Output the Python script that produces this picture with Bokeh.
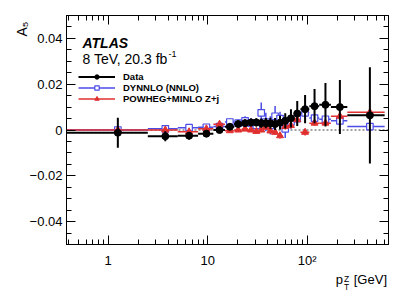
import numpy as np
from bokeh.plotting import figure
from bokeh.layouts import column
from bokeh.models import (FixedTicker, LinearAxis, LogAxis, Label, Legend,
                          LegendItem, Span, Range1d, Title, Div)
from bokeh.embed import file_html
from bokeh.resources import INLINE

# ---------------- data ----------------
bin_edges = [0, 2.5, 5.0, 8.0, 11.4, 14.9, 18.5, 22.0, 25.5, 29.0, 32.6, 36.4,
             40.4, 44.9, 50.2, 56.4, 63.9, 73.4, 85.4, 105.0, 132.0, 173.0,
             253.0, 600.0]
data_a5 = [-0.0012, -0.0027, -0.0025, -0.0016, 0.0000, 0.0014, 0.0026, 0.0030,
           0.0033, 0.0033, 0.0030, 0.0030, 0.0029, 0.0026, 0.0032, 0.0040,
           0.0051, 0.0072, 0.0091, 0.0104, 0.0110, 0.0100, 0.0064]
data_err = [0.0065, 0.0022, 0.0016, 0.0012, 0.0012, 0.0013, 0.0014, 0.0016,
            0.0017, 0.0018, 0.0020, 0.0022, 0.0024, 0.0026, 0.0030, 0.0033,
            0.0040, 0.0055, 0.0062, 0.0075, 0.0095, 0.0118, 0.0210]
dynnlo_a5 = [0.0000, 0.0005, 0.0010, 0.0012, 0.0015, 0.0035, 0.0030, 0.0040,
             0.0030, 0.0020, 0.0075, 0.0035, 0.0020, 0.0060, 0.0050, 0.0005,
             0.0035, 0.0050, 0.0075, 0.0052, 0.0047, 0.0040, 0.0015]
dynnlo_err = [0.0003, 0.0004, 0.0005, 0.0006, 0.0010, 0.0015, 0.0015, 0.0020,
              0.0020, 0.0025, 0.0045, 0.0040, 0.0040, 0.0045, 0.0030, 0.0040,
              0.0030, 0.0025, 0.0025, 0.0015, 0.0012, 0.0010, 0.0008]
powheg_a5 = [0.0000, 0.0000, -0.0008, 0.0005, 0.0025, -0.0003, 0.0000, 0.0004,
             0.0000, -0.0006, 0.0000, 0.0012, -0.0004, -0.0010, -0.0025, 0.0015,
             0.0020, 0.0045, -0.0010, 0.0030, 0.0030, 0.0060, 0.0077]
powheg_err = [0.0002, 0.0003, 0.0004, 0.0004, 0.0006, 0.0006, 0.0007, 0.0008,
              0.0008, 0.0009, 0.0010, 0.0010, 0.0011, 0.0012, 0.0012, 0.0013,
              0.0013, 0.0014, 0.0014, 0.0012, 0.0010, 0.0008, 0.0006]

x_tick_values = [1, 10, 100]
x_tick_labels = ["1", "10", "10²"]
y_tick_values = [-0.04, -0.02, 0.0, 0.02, 0.04]
y_tick_labels = ["−0.04", "−0.02", "0", "0.02", "0.04"]

X_RANGE = (0.381, 656.0)
Y_RANGE = (-0.05, 0.05)

FONT = "Liberation Sans"
BLACK = "#000000"
BLUE = "#4b4be6"
RED = "#e0302f"

# layout (pixels)
FRAME_W, FRAME_H = 322, 232
B_LEFT, B_RIGHT, B_TOP, B_BOTTOM = 66, 15, 15, 23

# ---------------- derived ----------------
edges = np.array(bin_edges, dtype=float)
lo = np.maximum(edges[:-1], X_RANGE[0] * 0.5)
hi = edges[1:]
centers = 0.5 * (edges[:-1] + edges[1:])


def fx(px):  # frame pixel from left -> data x (log)
    return X_RANGE[0] * (X_RANGE[1] / X_RANGE[0]) ** (px / FRAME_W)


def fy(py):  # frame pixel from bottom -> data y
    return Y_RANGE[0] + (Y_RANGE[1] - Y_RANGE[0]) * py / FRAME_H


p = figure(width=B_LEFT + FRAME_W + B_RIGHT, height=B_TOP + FRAME_H + B_BOTTOM,
           x_axis_type="log",
           x_range=Range1d(*X_RANGE), y_range=Range1d(*Y_RANGE),
           output_backend="svg", toolbar_location=None,
           min_border_left=B_LEFT, min_border_right=B_RIGHT,
           min_border_top=B_TOP, min_border_bottom=B_BOTTOM)
p.xgrid.visible = False
p.ygrid.visible = False
p.outline_line_color = "black"
p.outline_line_width = 1
p.background_fill_color = "white"
p.border_fill_color = "white"

# ticks
x_minor = [m * 10.0 ** k for k in range(-1, 3) for m in range(1, 10)]
x_minor = [float(v) for v in x_minor if X_RANGE[0] <= v <= X_RANGE[1]]
y_minor = [float(v) for v in np.round(np.arange(-0.05, 0.0501, 0.005), 4)]
xt = FixedTicker(ticks=x_tick_values, minor_ticks=x_minor)
yt = FixedTicker(ticks=y_tick_values, minor_ticks=y_minor)


def style_axis(ax, ticker, labels=None, standoff=4):
    ax.ticker = ticker
    ax.major_tick_in = 9
    ax.major_tick_out = 0
    ax.minor_tick_in = 5
    ax.minor_tick_out = 0
    ax.axis_line_color = "black"
    ax.major_tick_line_color = "black"
    ax.minor_tick_line_color = "black"
    if labels is None:
        ax.major_label_text_font_size = "1px"
        ax.major_label_text_color = None
        ax.major_label_standoff = 0
    else:
        ax.major_label_overrides = labels
        ax.major_label_text_font = FONT
        ax.major_label_text_font_size = "13px"
        ax.major_label_text_color = "black"
        ax.major_label_standoff = standoff


style_axis(p.xaxis[0], xt, dict(zip(x_tick_values, x_tick_labels)), standoff=8)
style_axis(p.yaxis[0], yt, dict(zip(y_tick_values, y_tick_labels)), standoff=4)
top_ax = LogAxis()
style_axis(top_ax, xt)
p.add_layout(top_ax, "above")
right_ax = LinearAxis()
style_axis(right_ax, yt)
p.add_layout(right_ax, "right")

# y-axis title (top aligned, like ROOT)
p.add_layout(Title(text="A₅", align="right", text_font=FONT,
                   text_font_size="14px", text_font_style="normal",
                   text_color="black", standoff=-6, offset=6), "left")

# zero line
p.add_layout(Span(location=0, dimension="width", line_color="#444444",
                  line_width=1, line_dash="2 2", level="underlay"))

d_a = np.array(data_a5); d_e = np.array(data_err)
b_a = np.array(dynnlo_a5); b_e = np.array(dynnlo_err)
r_a = np.array(powheg_a5); r_e = np.array(powheg_err)

# DYNNLO
b_h = p.segment(x0=lo, y0=b_a, x1=hi, y1=b_a, line_color=BLUE, line_width=1.5)
p.segment(x0=centers, y0=b_a - b_e, x1=centers, y1=b_a + b_e,
          line_color=BLUE, line_width=1.5)
b_m = p.scatter(centers, b_a, marker="square", size=6.5, fill_color="white",
                line_color=BLUE, line_width=1.2)
# POWHEG
r_h = p.segment(x0=lo, y0=r_a, x1=hi, y1=r_a, line_color=RED, line_width=1.5)
p.segment(x0=centers, y0=r_a - r_e, x1=centers, y1=r_a + r_e,
          line_color=RED, line_width=1.5)
r_m = p.scatter(centers, r_a, marker="triangle", size=7, fill_color=RED,
                line_color=RED)
# Data
d_h = p.segment(x0=lo, y0=d_a, x1=hi, y1=d_a, line_color=BLACK, line_width=2)
p.segment(x0=centers, y0=d_a - d_e, x1=centers, y1=d_a + d_e,
          line_color=BLACK, line_width=2)
d_m = p.scatter(centers, d_a, marker="circle", size=7, fill_color=BLACK,
                line_color=BLACK)

legend = Legend(items=[LegendItem(label="Data", renderers=[d_h, d_m]),
                       LegendItem(label="DYNNLO (NNLO)", renderers=[b_h, b_m]),
                       LegendItem(label="POWHEG+MINLO Z+j", renderers=[r_h, r_m])],
                location=(12, 140), orientation="vertical",
                label_text_font=FONT, label_text_font_size="9.5px",
                label_text_font_style="bold", label_text_color="black",
                glyph_width=37, glyph_height=11, label_height=11,
                spacing=0, padding=0, margin=0, label_standoff=8,
                background_fill_alpha=0, border_line_alpha=0)
p.add_layout(legend)


def lab(px, py, text, size, style="normal"):
    p.add_layout(Label(x=fx(px), y=fy(py), text=text,
                       text_font=FONT, text_font_size=size,
                       text_font_style=style, text_align="left",
                       text_baseline="alphabetic", text_color="black"))


lab(16, 204.5, "ATLAS", "14px", "bold italic")
lab(16, 187.5, "8 TeV, 20.3 fb", "14px")
lab(102, 193.5, "-1", "9px")

# x-axis title p_T^Z [GeV], right aligned under the frame
xtitle = Div(
    text=('<span style="font-family:\'Liberation Sans\';font-size:13px;'
          'color:black;white-space:nowrap">p'
          '<span style="display:inline-block;font-size:8.5px;line-height:8px;'
          'vertical-align:-6px;margin:0 1px 0 1px;text-align:left">Z<br>T</span>'
          ' [GeV]</span>'),
    width=B_LEFT + FRAME_W + B_RIGHT, height=24, margin=(0, 0, 0, 0),
    styles={"text-align": "right", "padding-right": f"{B_RIGHT + 1}px",
            "padding-top": "3px", "line-height": "13px",
            "box-sizing": "border-box"})

layout = column(p, xtitle, spacing=0)
open("out.html", "w").write(file_html(layout, INLINE))
